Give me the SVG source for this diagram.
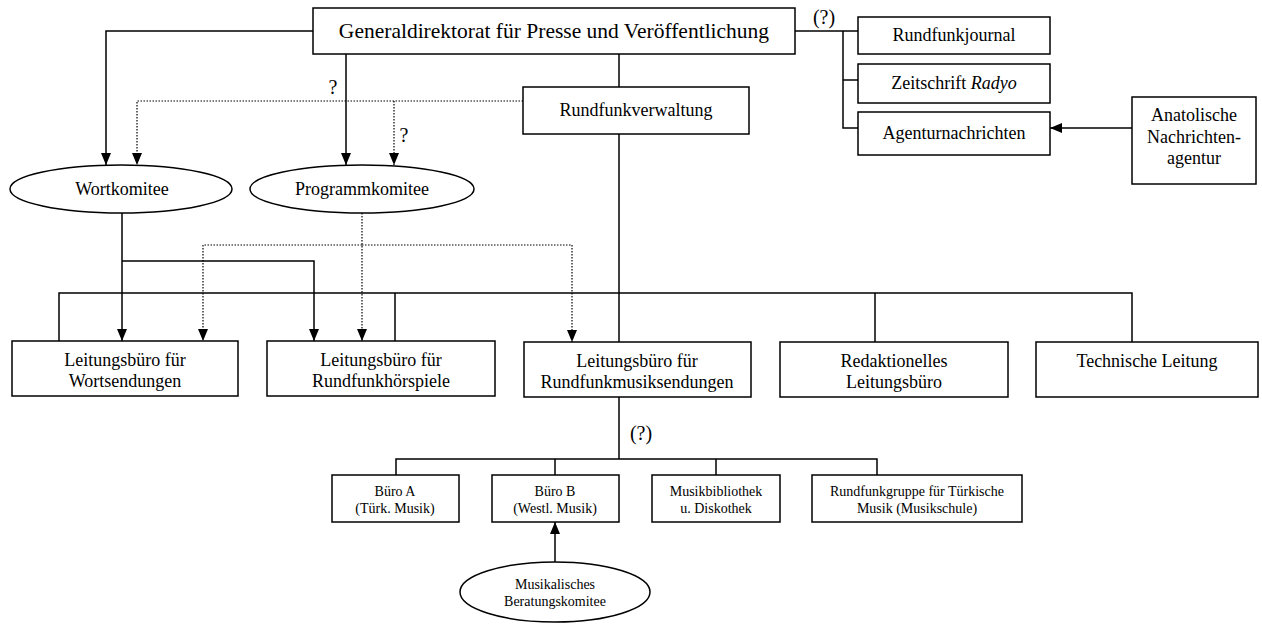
<svg xmlns="http://www.w3.org/2000/svg" width="1262" height="634" viewBox="0 0 1262 634" font-family="'Liberation Serif', 'Times New Roman', serif">
<defs>
<marker id="ah" markerWidth="12" markerHeight="10" refX="12" refY="5" orient="auto" markerUnits="userSpaceOnUse">
<path d="M0,0 L12,5 L0,10 Z" fill="#000"/>
</marker>
<style>
.box{fill:#fff;stroke:#000;stroke-width:1.5}
.t{font-family:"Liberation Serif","Times New Roman",serif;fill:#000;text-anchor:middle}
.big{font-size:21.5px}
.mid{font-size:18px}
.q{font-size:20px}
.sm{font-size:14px}
.ln{fill:none;stroke:#000;stroke-width:1.5}
.dl{fill:none;stroke:#000;stroke-width:1.2;stroke-dasharray:1.5 1.5}
.arr{marker-end:url(#ah)}
</style>
</defs>
<rect width="1262" height="634" fill="#fff"/>
<g id="connectors">
<path class="ln arr" d="M313,31 H106 V165"/>
<path class="ln arr" d="M346,54 V165"/>
<path class="dl arr" d="M523,101 H137 V165"/>
<path class="dl arr" d="M394,101 V165"/>
<path class="ln" d="M619,54 V87"/>
<path class="ln" d="M619,134 V342"/>
<path class="ln" d="M59,341 V293 H1132 V342"/>
<path class="ln" d="M395,293 V341"/>
<path class="ln" d="M875,293 V342"/>
<path class="ln arr" d="M122,213 V341"/>
<path class="ln arr" d="M122,261 H314 V341"/>
<path class="dl arr" d="M362,213 V341"/>
<path class="dl arr" d="M362,245 H203 V341"/>
<path class="dl arr" d="M362,245 H572 V342"/>
<path class="ln" d="M795,31 H858"/>
<path class="ln" d="M843,31 V128 H858"/>
<path class="ln" d="M843,80 H858"/>
<path class="ln arr" d="M1132,128 H1050"/>
<path class="ln" d="M619,397 V459"/>
<path class="ln" d="M396,475 V459 H877 V475"/>
<path class="ln" d="M555,459 V475"/>
<path class="ln" d="M716,459 V475"/>
<path class="ln arr" d="M555,562 V522"/>
<text class="t q" x="333" y="94">?</text>
<text class="t q" x="404" y="142">?</text>
<text class="t q" x="824" y="24">(?)</text>
<text class="t q" x="641" y="440">(?)</text>
</g>
<g id="gen"><rect class="box" x="313" y="8" width="482" height="46"/><text class="t big" x="554" y="38">Generaldirektorat für Presse und Veröffentlichung</text></g>
<g id="rv"><rect class="box" x="523" y="87" width="226" height="47"/><text class="t mid" x="636" y="116">Rundfunkverwaltung</text></g>
<g id="rj"><rect class="box" x="858" y="17" width="192" height="37"/><text class="t mid" x="954" y="41">Rundfunkjournal</text></g>
<g id="zr"><rect class="box" x="858" y="64" width="192" height="39"/><text class="t mid" x="954" y="89">Zeitschrift <tspan font-style="italic">Radyo</tspan></text></g>
<g id="ag"><rect class="box" x="858" y="112" width="192" height="43"/><text class="t mid" x="954" y="139">Agenturnachrichten</text></g>
<g id="an"><rect class="box" x="1132" y="97" width="124" height="87"/><text class="t mid" x="1194" y="121">Anatolische</text><text class="t mid" x="1194" y="143">Nachrichten-</text><text class="t mid" x="1194" y="164">agentur</text></g>
<g id="wk"><ellipse class="box" cx="121" cy="189" rx="111" ry="24"/><text class="t mid" x="122" y="195">Wortkomitee</text></g>
<g id="pk"><ellipse class="box" cx="362" cy="189" rx="112" ry="24"/><text class="t mid" x="362" y="195">Programmkomitee</text></g>
<g id="lw"><rect class="box" x="12" y="341" width="226" height="55"/><text class="t mid" x="125" y="366">Leitungsbüro für</text><text class="t mid" x="125" y="387">Wortsendungen</text></g>
<g id="lh"><rect class="box" x="267" y="341" width="228" height="55"/><text class="t mid" x="381" y="366">Leitungsbüro für</text><text class="t mid" x="381" y="387">Rundfunkhörspiele</text></g>
<g id="lm"><rect class="box" x="524" y="342" width="227" height="55"/><text class="t mid" x="637" y="367">Leitungsbüro für</text><text class="t mid" x="637" y="388">Rundfunkmusiksendungen</text></g>
<g id="lr"><rect class="box" x="780" y="342" width="228" height="55"/><text class="t mid" x="894" y="367">Redaktionelles</text><text class="t mid" x="894" y="388">Leitungsbüro</text></g>
<g id="lt"><rect class="box" x="1036" y="342" width="222" height="55"/><text class="t mid" x="1147" y="367">Technische Leitung</text></g>
<g id="ba"><rect class="box" x="332" y="475" width="127" height="47"/><text class="t sm" x="395" y="496">Büro A</text><text class="t sm" x="395" y="513">(Türk. Musik)</text></g>
<g id="bb"><rect class="box" x="492" y="475" width="127" height="47"/><text class="t sm" x="555" y="496">Büro B</text><text class="t sm" x="555" y="513">(Westl. Musik)</text></g>
<g id="mb"><rect class="box" x="652" y="475" width="128" height="47"/><text class="t sm" x="716" y="496">Musikbibliothek</text><text class="t sm" x="716" y="513">u. Diskothek</text></g>
<g id="rg"><rect class="box" x="812" y="475" width="210" height="47"/><text class="t sm" x="917" y="496">Rundfunkgruppe für Türkische</text><text class="t sm" x="917" y="513">Musik (Musikschule)</text></g>
<g id="mk"><ellipse class="box" cx="555" cy="592" rx="95" ry="30"/><text class="t sm" x="555" y="589">Musikalisches</text><text class="t sm" x="555" y="606">Beratungskomitee</text></g>
</svg>
